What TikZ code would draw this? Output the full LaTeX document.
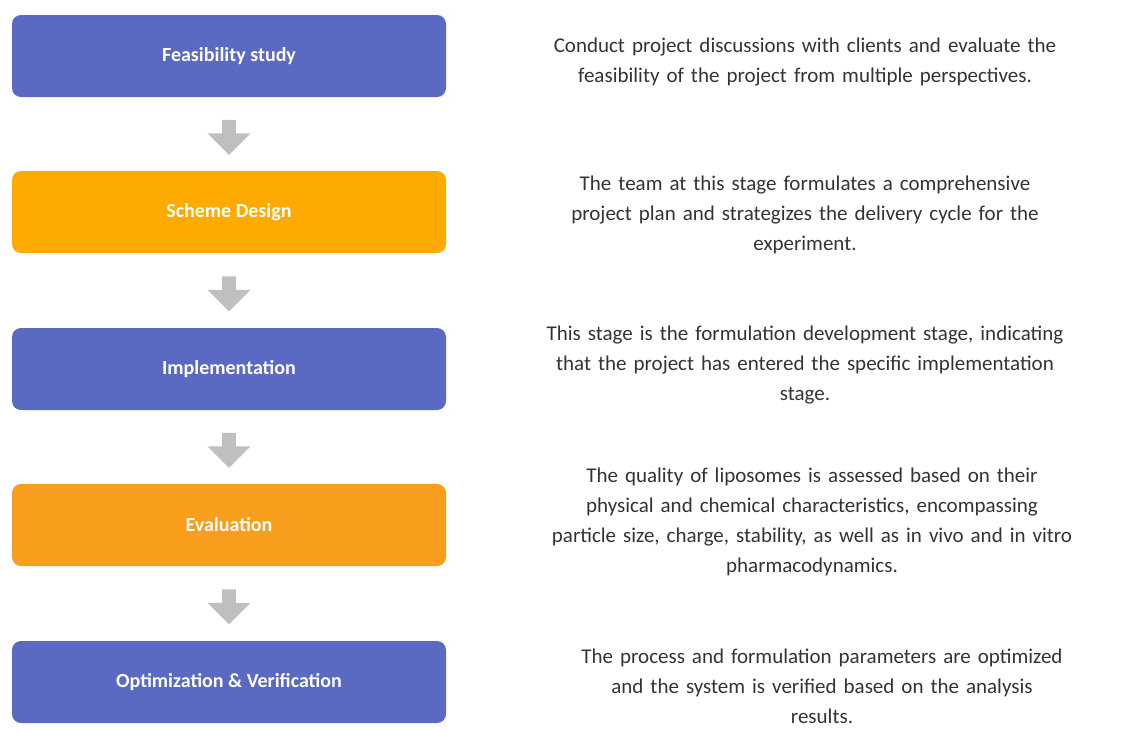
\documentclass[tikz,border=0pt]{standalone}
\usepackage{fontspec}
\setmainfont{Carlito}
\usetikzlibrary{shapes.arrows, positioning, calc}
\definecolor{stageblue}{HTML}{5A69C2}
\definecolor{stageyellow}{HTML}{FFAA00}
\definecolor{stageorange}{HTML}{F99D1C}
\definecolor{arrowgray}{HTML}{BFBFBF}
\definecolor{desctext}{HTML}{333333}
\tikzset{
  stagebox/.style={rounded corners=9pt, minimum width=434pt, minimum height=82pt,
    text=white, font=\fontsize{20}{24}\selectfont\bfseries, inner sep=0pt},
  desc/.style={text=desctext, align=center, font=\fontsize{21}{30}\selectfont, text width=640pt},
  downarrow/.style={single arrow, fill=arrowgray, draw=none, shape border rotate=270,
    minimum height=35pt, minimum width=43pt, single arrow head extend=11pt,
    single arrow head indent=0pt, inner sep=5pt}
}
\begin{document}
\begin{tikzpicture}[x=1pt, y=-1pt]
    \useasboundingbox (0,0) rectangle (1128,734);
    % Stages
    \node[stagebox, fill=stageblue] (s1) at (229,56) {Feasibility study};
    \node[stagebox, fill=stageyellow] (s2) at (229,212) {Scheme Design};
    \node[stagebox, fill=stageblue] (s3) at (229,369) {Implementation};
    \node[stagebox, fill=stageorange] (s4) at (229,525) {Evaluation};
    \node[stagebox, fill=stageblue] (s5) at (229,682) {Optimization \& Verification};

    % Arrows between stages
    \foreach \i/\j in {1/2, 2/3, 3/4, 4/5}
      \node[downarrow] (a\i) at ($(s\i.south)!0.5!(s\j.north)$) {};

    % Descriptions
    \node[desc] (d1) at (805,62) {Conduct project discussions with clients and evaluate the\\feasibility of the project from multiple perspectives.};
    \node[desc] (d2) at (805,215) {The team at this stage formulates a comprehensive\\project plan and strategizes the delivery cycle for the\\experiment.};
    \node[desc] (d3) at (805,365) {This stage is the formulation development stage, indicating\\that the project has entered the specific implementation\\stage.};
    \node[desc] (d4) at (812,522) {The quality of liposomes is assessed based on their\\physical and chemical characteristics, encompassing\\particle size, charge, stability, as well as in vivo and in vitro\\pharmacodynamics.};
    \node[desc] (d5) at (822,686) {The process and formulation parameters are optimized\\and the system is verified based on the analysis\\results.};
\end{tikzpicture}
\end{document}
